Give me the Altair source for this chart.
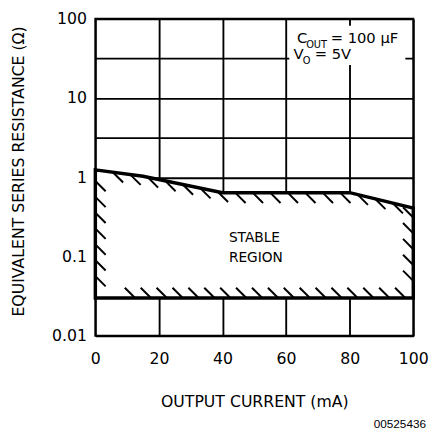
import json
import altair as alt
import numpy as np
import pandas as pd

# ---- data ----
CURRENT_MA = [0, 15, 40, 80, 100]            # boundary breakpoints (mA)
ESR_UPPER = [1.24, 1.03, 0.64, 0.64, 0.41]   # upper stability limit (ohm)
ESR_LOWER = [0.03, 0.03, 0.03, 0.03, 0.03]   # lower stability limit (ohm)
X_TICKS = [0, 20, 40, 60, 80, 100]
Y_GRID = [0.01, 0.0316, 0.1, 0.316, 1, 3.16, 10, 31.6, 100]
Y_LABELS = ["0.01", "0.1", "1", "10", "100"]

FONT = "DejaVu Sans"

region = pd.DataFrame({"x": CURRENT_MA, "top": ESR_UPPER, "bottom": ESR_LOWER})

# ---- hatch marks derived from the boundary ----
log_top = np.log10(ESR_UPPER)
bot = ESR_LOWER[0]
start_pts = []  # tick starts on the boundary, runs down-right
end_pts = []    # tick ends on the boundary
for xv in np.arange(5.5, 96, 5.5):
    start_pts.append((xv, 10 ** np.interp(xv, CURRENT_MA, log_top)))
ly = log_top[0] - 0.14
while ly > np.log10(bot) + 0.2:
    start_pts.append((0.0, 10 ** ly))
    ly -= 0.2
for xv in np.arange(12.5, 98, 5):
    end_pts.append((xv, bot))
ry = log_top[-1] - 0.12
while ry > np.log10(bot) + 0.2:
    end_pts.append((100.0, 10 ** ry))
    ry -= 0.2
hatch_start = pd.DataFrame(start_pts, columns=["x", "y"])
hatch_end = pd.DataFrame(end_pts, columns=["x", "y"])

label_list = json.dumps(Y_LABELS).replace('"', "'")

XAX = alt.Axis(values=X_TICKS, grid=True, gridColor="black", gridWidth=1.9, gridOpacity=1,
               ticks=False, tickSize=0, domain=False, labelFlush=False,
               labelFont=FONT, labelFontSize=16, labelColor="black", labelPadding=15,
               title="OUTPUT CURRENT (mA)", titleFont=FONT, titleFontSize=16,
               titleFontWeight="normal", titleColor="black", titleX=162, titleY=67,
               titleAlign="center", titleBaseline="middle")
YAX = alt.Axis(values=Y_GRID, grid=True, gridColor="black", gridWidth=1.9, gridOpacity=1,
               ticks=False, tickSize=0, domain=False, labelFlush=False, labelOverlap=False,
               format="~g",
               labelExpr=f"indexof({label_list}, datum.label) >= 0 ? datum.label : ''",
               labelFont=FONT, labelFontSize=16, labelColor="black", labelPadding=9,
               title="EQUIVALENT SERIES RESISTANCE (Ω)", titleFont=FONT, titleFontSize=16,
               titleFontWeight="normal", titleColor="black", titleX=-78, titleY=155,
               titleAlign="center", titleBaseline="middle", titleAngle=270)
XSC = alt.Scale(domain=[0, 100], nice=False)
YSC = alt.Scale(type="log", domain=[0.01, 100], nice=False)


def X(f):
    return alt.X(f, type="quantitative", scale=XSC, axis=XAX)


def Y(f):
    return alt.Y(f, type="quantitative", scale=YSC, axis=YAX)


area = alt.Chart(region).mark_area(
    fill="white", fillOpacity=1, stroke="black", strokeWidth=3.5, opacity=1
).encode(x=X("x"), y=Y("top"), y2=alt.Y2("bottom"))

hs = alt.Chart(hatch_start).mark_point(
    shape="M0,0L1,1", filled=False, stroke="black", strokeWidth=2, size=441, opacity=1
).encode(x=X("x"), y=Y("y"))
he = alt.Chart(hatch_end).mark_point(
    shape="M-1,-1L0,0", filled=False, stroke="black", strokeWidth=2, size=441, opacity=1
).encode(x=X("x"), y=Y("y"))

# ---- annotations ----
region_txt = pd.DataFrame({"t": ["STABLE", "REGION"], "x": [42, 42], "y": [0.154, 0.0845]})
rt = alt.Chart(region_txt).mark_text(
    align="left", baseline="alphabetic", font=FONT, fontSize=14, color="black"
).encode(x=X("x"), y=Y("y"), text="t:N")

box = pd.DataFrame({"x": [61], "x2": [97.5], "y": [81.9], "y2": [26.2]})
bx = alt.Chart(box).mark_rect(fill="white", opacity=1).encode(
    x=X("x"), x2="x2", y=Y("y"), y2="y2")

cond = pd.DataFrame({
    "t": ["C", "OUT", "= 100 μF", "V", "O", "= 5V"],
    "x": [63.4, 66.3, 74.0, 62.3, 65.2, 69.0],
    "y": [49.0, 42.5, 49.0, 31.0, 27.3, 31.0],
    "fs": [15, 10, 15, 15, 10, 15],
})
ct = alt.Chart(cond).mark_text(
    align="left", baseline="alphabetic", font=FONT, color="black"
).encode(x=X("x"), y=Y("y"), text="t:N", size=alt.Size("fs:Q", scale=None, legend=None))

code = alt.Chart(pd.DataFrame({"t": ["00525436"]})).mark_text(
    align="right", baseline="middle", font="Liberation Sans", fontSize=12, color="black"
).encode(text="t:N", x=alt.value(337), y=alt.value(413))

chart = alt.layer(area, hs, he, rt, bx, ct, code).properties(
    width=324, height=323,
    autosize=alt.AutoSizeParams(type="none"),
    padding={"left": 89, "top": 7, "right": 16, "bottom": 95},
    background="white",
).configure_view(stroke="black", strokeWidth=2)

chart.save("out.html", embed_options={"renderer": "svg", "actions": False})
